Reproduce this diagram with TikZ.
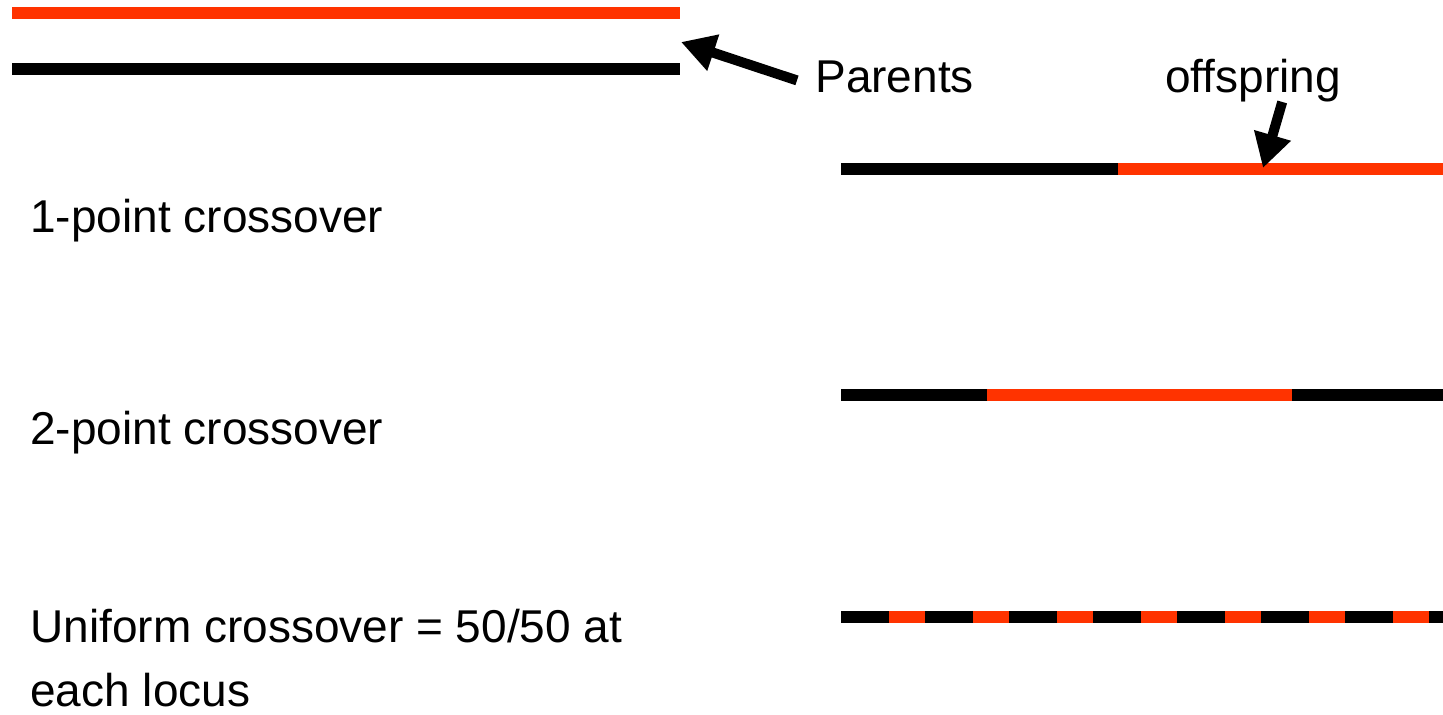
\documentclass[tikz,border=0pt]{standalone}
\usepackage{fontspec}
\setmainfont{Liberation Sans}
\usepackage{tikz}
\usetikzlibrary{arrows.meta,positioning}
\definecolor{xred}{HTML}{FF3300}
\definecolor{xink}{HTML}{000000}

\begin{document}
\begin{tikzpicture}[x=0.5pt,y=-0.5pt,
  chrom/.style={line width=6pt},
  lbl/.style={inner sep=0pt,font=\fontsize{23}{32}\selectfont,anchor=base west,align=left},
  pointer/.style={-{Triangle[length=17pt,width=18pt]},draw=xink,line width=5pt}]
  \useasboundingbox (0,0) rectangle (1443,714);
  % parents
  \draw[chrom,xred] (12,13) -- (680,13);
  \draw[chrom,xink] (12,69) -- (680,69);
  \coordinate (ptip) at (681,42);
  \node[lbl] (par) at (815,92) {Parents};
  \draw[pointer] ([xshift=-9pt,yshift=-2pt]par.west) -- (ptip);
  % offspring, 1-point
  \node[lbl] (l1) at (30,232) {1-point crossover};
  \draw[chrom,xink] (841,169) -- (1118,169);
  \draw[chrom,xred] (1118,169) -- (1443,169);
  \node[lbl] (off) at (1165,92) {offspring};
  \coordinate (otip) at (1263,168);
  \draw[pointer] ([xshift=14.5pt]off.south) -- (otip);
  % 2-point
  \node[lbl] (l2) at (30,444) {2-point crossover};
  \draw[chrom,xink] (841,395) -- (1443,395);
  \draw[chrom,xred] (987,395) -- (1292,395);
  % uniform (base anchor sits on the last line)
  \node[lbl] (lu) at (30,706) {Uniform crossover = 50/50 at\\each locus};
  \draw[chrom,xink] (841,617) -- (1443,617);
  \foreach \k in {0,...,6}
    \draw[chrom,xred] (889+84*\k,617) -- (925+84*\k,617);
\end{tikzpicture}
\end{document}
